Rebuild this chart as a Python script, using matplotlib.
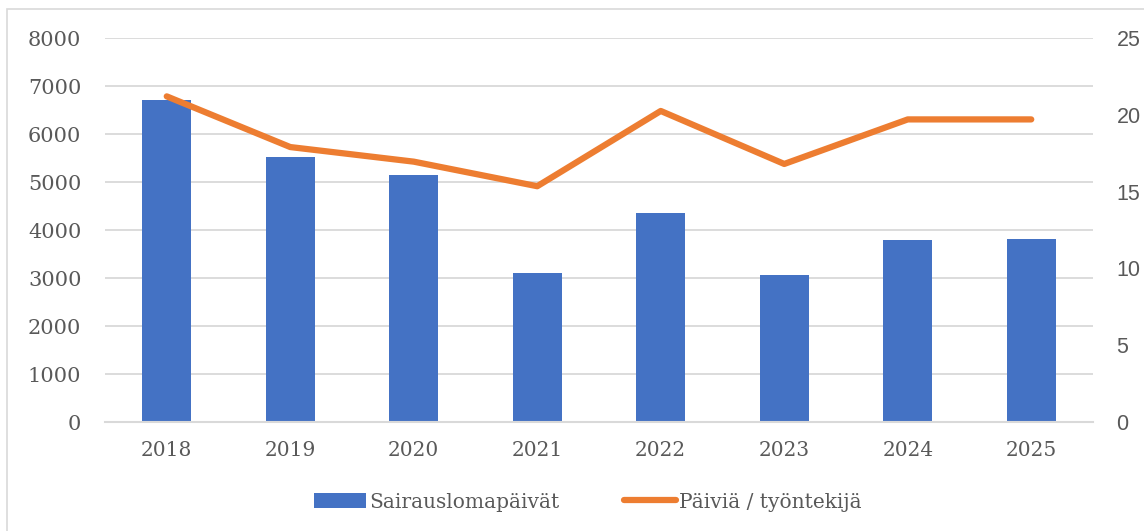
import matplotlib.pyplot as plt
from matplotlib.patches import Rectangle

years = ['2018', '2019', '2020', '2021', '2022', '2023', '2024', '2025']
sick_days = [6705, 5520, 5140, 3110, 4345, 3065, 3785, 3820]
days_per_employee = [21.2, 17.9, 16.95, 15.35, 20.25, 16.8, 19.7, 19.7]

blue = '#4472C4'
orange = '#ED7D31'
grey = '#595959'
gridc = '#D9D9D9'

fig = plt.figure(figsize=(11.44, 5.31), dpi=100)
ax = fig.add_axes([105 / 1144, 1 - 422 / 531, 988 / 1144, 384 / 531])
ax2 = ax.twinx()

x = range(len(years))
bars = ax.bar(x, sick_days, width=0.4, color=blue, label='Sairauslomapäivät', zorder=2)
line, = ax2.plot(x, days_per_employee, color=orange, lw=4.5, solid_capstyle='round',
                 solid_joinstyle='round', label='Päiviä / työntekijä', zorder=3)

ax.set_xlim(-0.5, len(years) - 0.5)
ax.set_ylim(0, 8000)
ax.set_yticks(range(0, 8001, 1000))
ax2.set_ylim(0, 25)
ax2.set_yticks(range(0, 26, 5))

ax.set_xticks(list(x))
ax.set_xticklabels(years)
ax.grid(axis='y', color=gridc, lw=1.3, zorder=0)
ax.set_axisbelow(True)

for a in (ax, ax2):
    for s in a.spines.values():
        s.set_visible(False)
ax.spines['bottom'].set_visible(True)
ax.spines['bottom'].set_color(gridc)
ax.spines['bottom'].set_linewidth(1.5)

ax.tick_params(axis='both', length=0)
ax2.tick_params(axis='y', length=0)
ax.tick_params(axis='y', pad=17, labelsize=15, labelcolor=grey)
ax.tick_params(axis='x', pad=14, labelsize=14.5, labelcolor=grey)
for t in ax.get_xticklabels() + ax.get_yticklabels():
    t.set_family('DejaVu Serif')
ax2.tick_params(axis='y', pad=17, labelsize=15.5, labelcolor=grey)
for t in ax2.get_yticklabels():
    t.set_family('Liberation Sans')

fig.legend(handles=[bars, line], loc='center', bbox_to_anchor=(588 / 1144, 1 - 502 / 531),
           ncol=2, frameon=False, handlelength=2.6, handletextpad=0.15, columnspacing=3.2,
           prop={'family': 'DejaVu Serif', 'size': 14.5}, labelcolor=grey)

fig.patches.append(Rectangle((7 / 1144, -0.1), 1.2, (531 - 9) / 531 + 0.1,
                             transform=fig.transFigure, fill=False, edgecolor=gridc, lw=1.2))

fig.savefig('out.png', dpi=100)
